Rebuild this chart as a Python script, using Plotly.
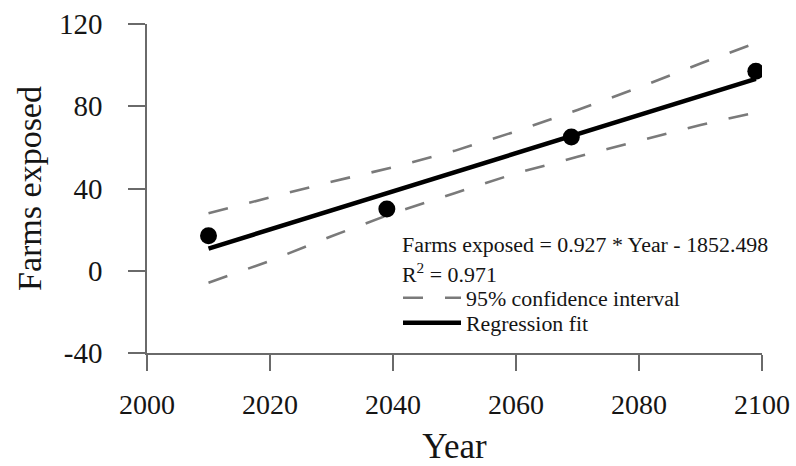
import plotly.graph_objects as go

# ---- data ----
years = [2010, 2039, 2069, 2099]
farms_exposed = [17, 30, 65, 97]

fit_years = [2010, 2099]
fit_values = [10.8, 93.3]

ci_years = [2010, 2020, 2030, 2040, 2050, 2060, 2070, 2080, 2090, 2099]
ci_upper = [28.0, 35.8, 43.3, 50.3, 58.3, 67.8, 78.2, 89.1, 100.8, 110.8]
ci_lower = [-5.8, 4.8, 16.8, 28.0, 37.7, 47.4, 55.4, 63.1, 70.9, 77.0]

x_ticks = [2000, 2020, 2040, 2060, 2080, 2100]
y_ticks = [-40, 0, 40, 80, 120]
y_tick_labels = ["-40", "0", "40", "80", "120"]

equation_text = "Farms exposed = 0.927 * Year - 1852.498"
r2_text = "R<sup>2</sup> = 0.971"

FONT = "Liberation Serif, Times New Roman, serif"
AXIS_COLOR = "#6a6a6a"
TEXT_COLOR = "#151515"

fig = go.Figure()

fig.add_trace(go.Scatter(
    x=ci_years, y=ci_upper, mode="lines", name="95% confidence interval",
    line=dict(color="#7a7a7a", width=2.6, dash="20px,22px"),
    showlegend=True, legend="legend"))
fig.add_trace(go.Scatter(
    x=ci_years, y=ci_lower, mode="lines", name="95% confidence interval",
    line=dict(color="#7a7a7a", width=2.6, dash="20px,22px"),
    showlegend=False))
fig.add_trace(go.Scatter(
    x=fit_years, y=fit_values, mode="lines", name="Regression fit",
    line=dict(color="#000000", width=4.5),
    showlegend=True, legend="legend2"))
fig.add_trace(go.Scatter(
    x=years, y=farms_exposed, mode="markers", name="Observed",
    marker=dict(color="#000000", size=17),
    showlegend=False))

L, R, T, B = 147, 34, 24, 113
W, H = 796, 466
pw = W - L - R
ph = H - T - B


def px_x(px):
    return (px - L) / pw


def px_y(py):
    return 1 - (py - T) / ph


ann_font = dict(family=FONT, size=21.9, color=TEXT_COLOR)
fig.add_annotation(
    xref="paper", yref="paper", x=px_x(400), y=px_y(245),
    xanchor="left", yanchor="middle", align="left", showarrow=False,
    text=equation_text, font=ann_font)
fig.add_annotation(
    xref="paper", yref="paper", x=px_x(400), y=px_y(273),
    xanchor="left", yanchor="middle", align="left", showarrow=False,
    text=r2_text, font=ann_font)

legend_common = dict(
    xanchor="left", yanchor="top",
    bgcolor="rgba(0,0,0,0)", borderwidth=0,
    font=dict(family=FONT, size=21.9, color=TEXT_COLOR),
    itemwidth=58,
)

fig.update_layout(
    width=W, height=H,
    margin=dict(l=L, r=R, t=T, b=B, autoexpand=False),
    paper_bgcolor="white", plot_bgcolor="white",
    showlegend=True,
    legend=dict(x=px_x(398), y=px_y(277), **legend_common),
    legend2=dict(x=px_x(398), y=px_y(302), **legend_common),
    xaxis=dict(
        range=[2000, 2100], tickvals=x_ticks,
        showline=True, linecolor=AXIS_COLOR, linewidth=1.5,
        ticks="outside", ticklen=16, tickwidth=1.5, tickcolor=AXIS_COLOR,
        ticklabelstandoff=10, automargin=False,
        showgrid=False, zeroline=False,
        tickfont=dict(family=FONT, size=28, color=TEXT_COLOR),
        title=dict(text="Year", font=dict(family=FONT, size=35, color=TEXT_COLOR), standoff=24),
    ),
    yaxis=dict(
        range=[-40, 120], tickvals=y_ticks, ticktext=y_tick_labels,
        showline=True, linecolor=AXIS_COLOR, linewidth=1.5,
        ticks="outside", ticklen=17, tickwidth=1.5, tickcolor=AXIS_COLOR,
        ticklabelstandoff=20, automargin=False,
        showgrid=False, zeroline=False,
        tickfont=dict(family=FONT, size=29, color=TEXT_COLOR),
        title=dict(text="Farms exposed", font=dict(family=FONT, size=34, color=TEXT_COLOR), standoff=7),
    ),
)

fig.write_html("out.html")
